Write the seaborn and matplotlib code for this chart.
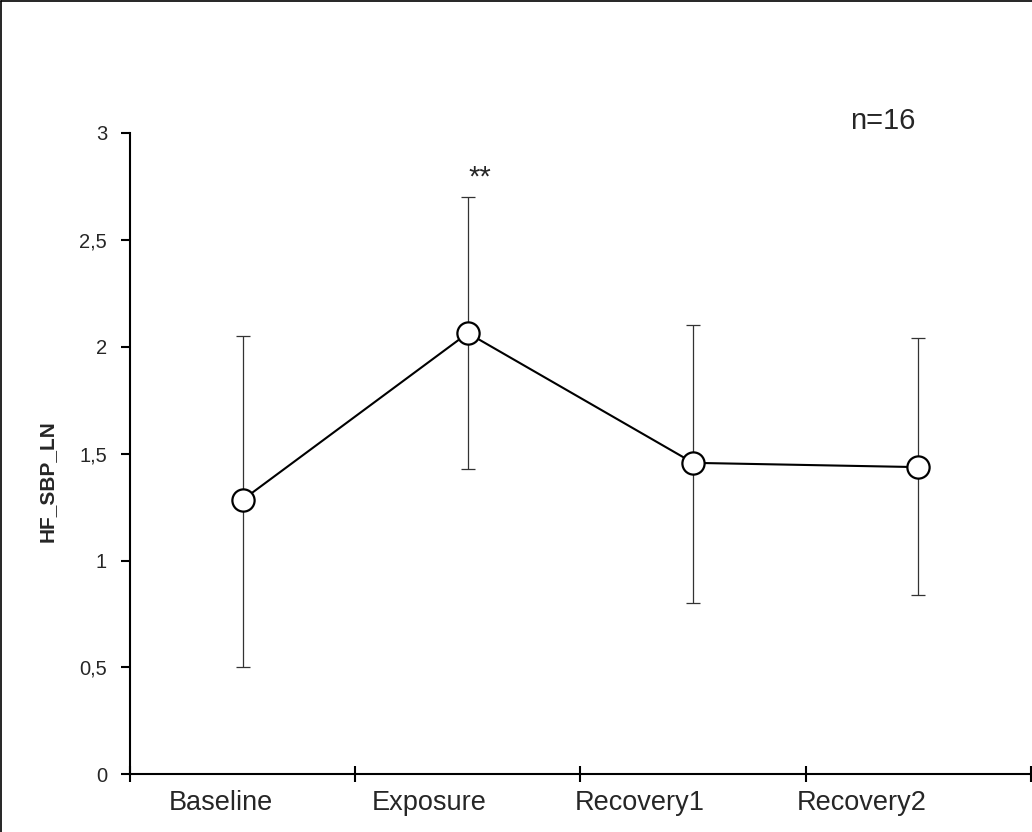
import numpy as np
import matplotlib
matplotlib.use("Agg")
import matplotlib.pyplot as plt
from matplotlib.lines import Line2D
import seaborn as sns

phases = ["Baseline", "Exposure", "Recovery1", "Recovery2"]
means = [1.284, 2.064, 1.457, 1.437]
err_low = [0.502, 1.428, 0.800, 0.838]
err_high = [2.050, 2.700, 2.100, 2.040]
ytick_vals = [0, 0.5, 1, 1.5, 2, 2.5, 3]
ytick_labels = ["0", "0,5", "1", "1,5", "2", "2,5", "3"]

sns.set_style("ticks")
plt.rcParams["font.family"] = ["Liberation Sans", "DejaVu Sans"]

fig = plt.figure(figsize=(10.32, 8.32), dpi=100)
ax = fig.add_axes([130 / 1032, 1 - 774.3 / 832, 1 - 130 / 1032 - 0.001, (774.3 - 133) / 832])

x = np.arange(len(phases))
m = np.array(means)
lo = m - np.array(err_low)
hi = np.array(err_high) - m
ax.errorbar(x, m, yerr=[lo, hi], fmt="none", ecolor="#333333",
            elinewidth=0.9, capsize=5, capthick=0.9, zorder=1)

sns.pointplot(x=phases, y=means, ax=ax, color="black", errorbar=None,
              markers="o", markersize=16, markerfacecolor="white",
              markeredgecolor="black", markeredgewidth=1.6,
              linewidth=1.5, zorder=3)

ax.set_xlim(-0.5, 3.5)
ax.set_ylim(0, 3)
ax.set_yticks(ytick_vals)
ax.set_yticklabels(ytick_labels, fontsize=14.5)
# category labels sit a little left of the category centres in the original
label_pos = [-0.098, 0.829, 1.765, 2.750]
ax.set_xticks(label_pos)
ax.set_xticklabels(phases, fontsize=19.5)
ax.set_xticks(np.arange(-0.5, 3.6, 1), minor=True)
ax.tick_params(axis="x", which="major", length=0, pad=11.5)
ax.tick_params(axis="x", which="minor", direction="inout", length=12, width=1.5, color="black")
ax.tick_params(axis="y", direction="out", length=6.5, width=1.5, pad=10, color="black")

ax.set_xlabel("")
ax.set_ylabel("HF_SBP_LN", fontsize=15, fontweight="bold")
ax.yaxis.set_label_coords(-0.081, 0.457)

for s in ["top", "right"]:
    ax.spines[s].set_visible(False)
for s in ["left", "bottom"]:
    ax.spines[s].set_linewidth(1.5)
    ax.spines[s].set_color("black")

ax.text(2.84, 3.058, "n=16", fontsize=21, ha="center", va="center", clip_on=False)
ax.text(1.054, 2.79, "**", fontsize=21, ha="center", va="center")

# outer frame (top and left visible)
fig.add_artist(Line2D([0.001, 0.001], [0, 0.999], transform=fig.transFigure, color="black", lw=1.2))
fig.add_artist(Line2D([0.001, 1], [0.999, 0.999], transform=fig.transFigure, color="black", lw=1.2))

fig.savefig("out.png", dpi=100)
